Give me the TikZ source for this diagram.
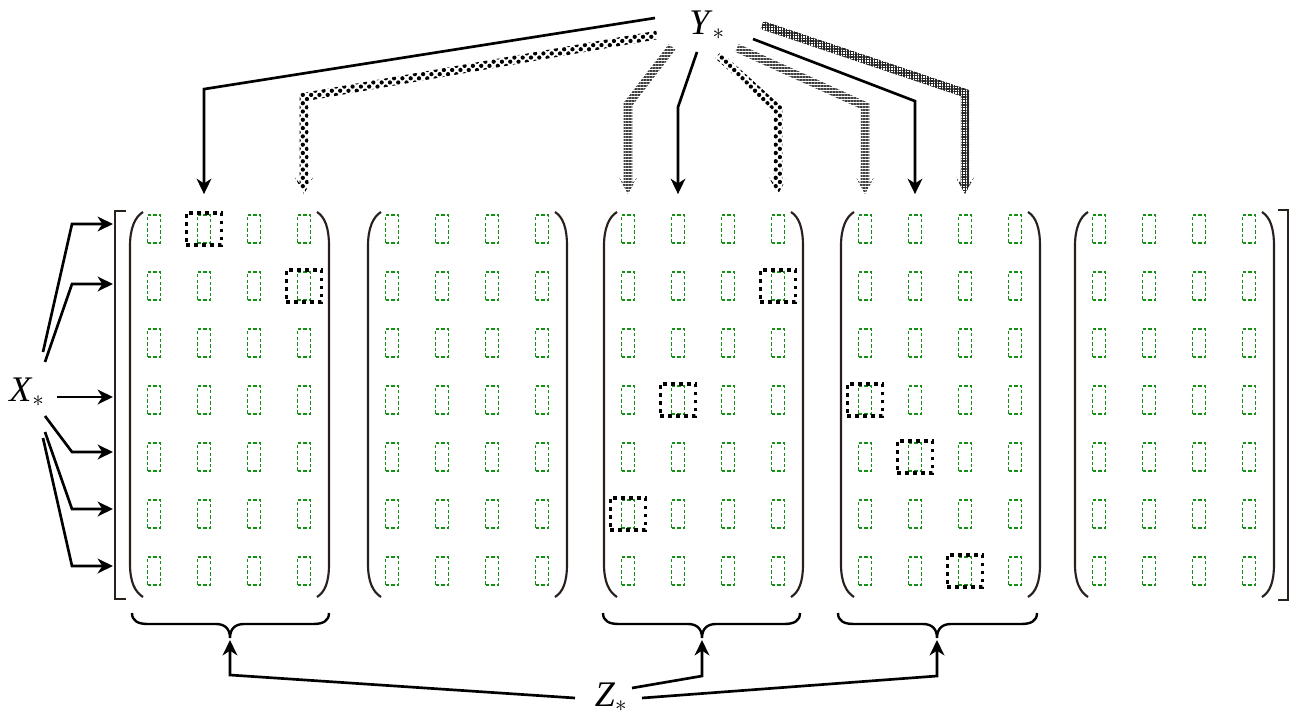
\documentclass[tikz,border=0pt]{standalone}
\usepackage{fontspec}
\setmainfont{Liberation Serif}
\usetikzlibrary{arrows.meta,calc,patterns.meta}

\definecolor{cellgreen}{RGB}{20,145,20}
\definecolor{delim}{RGB}{40,32,28}

% half width of a patterned band and size of its head
\newcommand\bandw{3.2pt}
\newcommand\headnotch{8pt}
\newcommand\headlen{12.5pt}
\newcommand\headw{6.8pt}

% patterned band arrow: #1 fill options, #2 start, #3 bend, #4 tip
\newcommand\bandarrow[4]{%
  \coordinate (ba-sp) at ($(#2)!\bandw!90:(#3)$);
  \coordinate (ba-sm) at ($(#2)!\bandw!-90:(#3)$);
  \coordinate (ba-ep) at ($(#3)!\bandw!-90:(#2)$);
  \coordinate (ba-em) at ($(#3)!\bandw!90:(#2)$);
  \coordinate (ba-fp) at ($(#3)!\bandw!90:(#4)$);
  \coordinate (ba-fm) at ($(#3)!\bandw!-90:(#4)$);
  \coordinate (ba-n) at ($(#4)!\headnotch!(#3)$);
  \coordinate (ba-w) at ($(#4)!\headlen!(#3)$);
  \coordinate (ba-np) at ($(ba-n)!\bandw!-90:(#3)$);
  \coordinate (ba-nm) at ($(ba-n)!\bandw!90:(#3)$);
  \coordinate (ba-wp) at ($(ba-w)!\headw!-90:(#3)$);
  \coordinate (ba-wm) at ($(ba-w)!\headw!90:(#3)$);
  \coordinate (ba-mp) at (intersection of ba-sp--ba-ep and ba-fp--ba-np);
  \coordinate (ba-mm) at (intersection of ba-sm--ba-em and ba-fm--ba-nm);
  \fill[#1] (ba-sp) -- (ba-mp) -- (ba-np) -- (ba-wp) -- (#4) -- (ba-wm)
    -- (ba-nm) -- (ba-mm) -- (ba-sm) -- cycle;
}

% round matrix delimiters around a block whose first column is at #1
\newcommand\blockparens[1]{%
  \draw[paren] ({#1-11},212) .. controls ({#1-19},217) and ({#1-24},228) .. ({#1-24},246)
    -- ({#1-24},564) .. controls ({#1-24},582) and ({#1-19},592) .. ({#1-11},597);
  \draw[paren] ({#1+163},212) .. controls ({#1+171},217) and ({#1+175},228) .. ({#1+175},246)
    -- ({#1+175},564) .. controls ({#1+175},582) and ({#1+171},592) .. ({#1+163},597);
}

% under-brace from #1 to #3 with its tip at #2
\newcommand\underbr[3]{%
  \draw[brace] (#1,613) .. controls (#1,621) and ({#1+6},624) .. ({#1+16},624)
    -- ({#2-14},624) .. controls ({#2-5},624) and (#2,629) .. (#2,638)
    .. controls (#2,629) and ({#2+5},624) .. ({#2+14},624)
    -- ({#3-16},624) .. controls ({#3-6},624) and (#3,621) .. (#3,613);
}

\begin{document}
\begin{tikzpicture}[x=0.75pt,y=-0.75pt,
  cell/.style={draw=cellgreen, line width=1.35pt, dash pattern=on 2.6pt off 1.6pt,
    minimum width=9.75pt, minimum height=21pt, inner sep=0pt},
  hlbox/.style={draw=black, line width=2.7pt, dash pattern=on 2.7pt off 3.3pt,
    minimum width=26.5pt, minimum height=24pt, inner sep=0pt},
  paren/.style={draw=delim, line width=1.6pt},
  bracket/.style={draw=delim, line width=1.3pt},
  brace/.style={draw=black, line width=1.8pt},
  sarrow/.style={draw=black, line width=2pt,
    -{Stealth[length=11.5pt, width=11pt, inset=3.5pt]}},
  label/.style={font=\fontsize{27}{30}\selectfont, inner sep=1pt},
  stripeband/.style={pattern={Lines[angle=0, distance=2.25pt, line width=1.3pt]},
    pattern color=black!75},
  dotband/.style={pattern={Dots[distance=4.4pt, radius=1.6pt, angle=45]},
    pattern color=black},
  gridband/.style={pattern={Hatch[distance=2pt, line width=1pt]},
    pattern color=black!85},
]
\fill[white] (0,0) rectangle (1290,713);
\useasboundingbox (0,0) rectangle (1290,713);

% the five 7x4 blocks of cells
\foreach \b/\bx in {1/154,2/392,3/628,4/865,5/1099} {
  \foreach \r in {1,...,7} {
    \foreach \c in {1,...,4} {
      \node[cell] (c-\b-\r-\c) at ({\bx+50*(\c-1)}, {229+57*(\r-1)}) {};
    }
  }
  \blockparens{\bx}
}

% outer square brackets
\draw[bracket] (126,211) -- (115,211) -- (115,599) -- (126,599);
\draw[bracket] (1278,210) -- (1288,210) -- (1288,600) -- (1278,600);

% selected cells
\foreach \b/\r/\c in {1/1/2,1/2/4,3/2/4,3/4/2,3/6/1,4/4/1,4/5/2,4/7/3} {
  \node[hlbox] (h-\b-\r-\c) at (c-\b-\r-\c) {};
}

% labels
\node[label] (Y) at (707,25) {\textit{Y}$_{*}$};
\node[label] (X) at (27,392) {\textit{X}$_{*}$};
\node[label] (Z) at (611,697) {\textit{Z}$_{*}$};

% column targets above the first row
\foreach \b/\c in {1/2,1/4,3/1,3/2,3/4,4/1,4/2,4/3} {
  \coordinate (yt-\b-\c) at ($(c-\b-1-\c.north)+(0,-20)$);
}

% arrows from Y
\coordinate (ys1) at (655,18);  \coordinate (yb1) at ($(yt-1-2)+(0,-105)$);
\coordinate (ys2) at (657,35);  \coordinate (yb2) at ($(yt-1-4)+(0,-97)$);
\coordinate (ys3) at (672,47);  \coordinate (yb3) at ($(yt-3-1)+(0,-90)$);
\coordinate (ys4) at (697,52);  \coordinate (yb4) at ($(yt-3-2)+(0,-87)$);
\coordinate (ys5) at (718,55);  \coordinate (yb5) at ($(yt-3-4)+(0,-85)$);
\coordinate (ys6) at (737,48);  \coordinate (yb6) at ($(yt-4-1)+(0,-88)$);
\coordinate (ys7) at (753,39);  \coordinate (yb7) at ($(yt-4-2)+(0,-93)$);
\coordinate (ys8) at (762,25);  \coordinate (yb8) at ($(yt-4-3)+(0,-101)$);

\draw[sarrow] (ys1) -- (yb1) -- (yt-1-2);
\bandarrow{dotband}{ys2}{yb2}{yt-1-4}
\bandarrow{stripeband}{ys3}{yb3}{yt-3-1}
\draw[sarrow] (ys4) -- (yb4) -- (yt-3-2);
\bandarrow{dotband}{ys5}{yb5}{yt-3-4}
\bandarrow{stripeband}{ys6}{yb6}{yt-4-1}
\draw[sarrow] (ys7) -- (yb7) -- (yt-4-2);
\bandarrow{gridband}{ys8}{yb8}{yt-4-3}

% arrows from X into the rows
\foreach \i/\sx/\sy/\ty in {1/43/352/224, 2/45/362/284, 4/45/416/452, 5/45/432/509, 6/43/438/566} {
  \coordinate (xs\i) at (\sx,\sy);
  \coordinate (xb\i) at (72,\ty);
  \coordinate (xt\i) at (113,\ty);
  \draw[sarrow] (xs\i) -- (xb\i) -- (xt\i);
}
\coordinate (xs3) at (57,397);
\coordinate (xt3) at (113,397);
\draw[sarrow] (xs3) -- (xt3);

% braces under blocks 1, 3 and 4
\underbr{132}{230}{329}
\underbr{603}{702}{800}
\underbr{838}{937}{1037}
\coordinate (br1) at (230,640);
\coordinate (br3) at (702,640);
\coordinate (br4) at (937,640);

% arrows from Z into the braces
\coordinate (zs1) at (575,698);
\coordinate (zs3) at (632,688);
\coordinate (zs4) at (642,698);
\draw[sarrow] (zs1) -- ($(br1)+(0,35)$) -- (br1);
\draw[sarrow] (zs3) -- ($(br3)+(0,36)$) -- (br3);
\draw[sarrow] (zs4) -- ($(br4)+(0,36)$) -- (br4);
\end{tikzpicture}
\end{document}
